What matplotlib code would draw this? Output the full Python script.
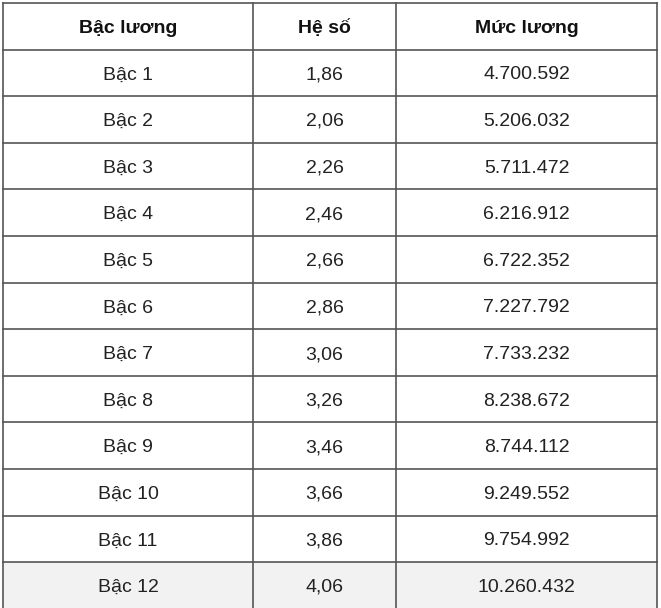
import matplotlib.pyplot as plt

headers = ["Bậc lương", "Hệ số", "Mức lương"]
grades = [f"Bậc {i}" for i in range(1, 13)]
coefs = ["1,86", "2,06", "2,26", "2,46", "2,66", "2,86",
         "3,06", "3,26", "3,46", "3,66", "3,86", "4,06"]
salaries = ["4.700.592", "5.206.032", "5.711.472", "6.216.912", "6.722.352", "7.227.792",
            "7.733.232", "8.238.672", "8.744.112", "9.249.552", "9.754.992", "10.260.432"]

plt.rcParams['font.family'] = ['Liberation Sans', 'DejaVu Sans']

W, H = 661, 608
fig = plt.figure(figsize=(W / 100, H / 100), dpi=100)
ax = fig.add_axes([0, 0, 1, 1])
ax.set_xlim(0, W)
ax.set_ylim(H, 0)
ax.axis("off")

col_edges = [3, 253, 396, 657]
top = 3
row_h = 46.6
n_rows = len(grades) + 1

# shaded last row
y0 = top + (n_rows - 1) * row_h
ax.add_patch(plt.Rectangle((col_edges[0], y0), col_edges[-1] - col_edges[0], H - y0,
                           facecolor="#f2f2f2", edgecolor="none", zorder=0))

line_kw = dict(color="#555555", lw=1.2, zorder=2)
for x in col_edges:
    ax.plot([x, x], [top, H], **line_kw)
for r in range(n_rows):
    y = top + r * row_h
    ax.plot([col_edges[0], col_edges[-1]], [y, y], **line_kw)

centers = [(col_edges[i] + col_edges[i + 1]) / 2 for i in range(3)]
for c, h in zip(centers, headers):
    ax.text(c, top + row_h / 2, h, ha="center", va="center_baseline",
            fontsize=14, fontweight="bold", color="#111111")

for i, row in enumerate(zip(grades, coefs, salaries)):
    yc = top + (i + 1.5) * row_h
    for c, val in zip(centers, row):
        ax.text(c, yc, val, ha="center", va="center_baseline", fontsize=14, color="#222222")

fig.savefig("out.png", dpi=100)
